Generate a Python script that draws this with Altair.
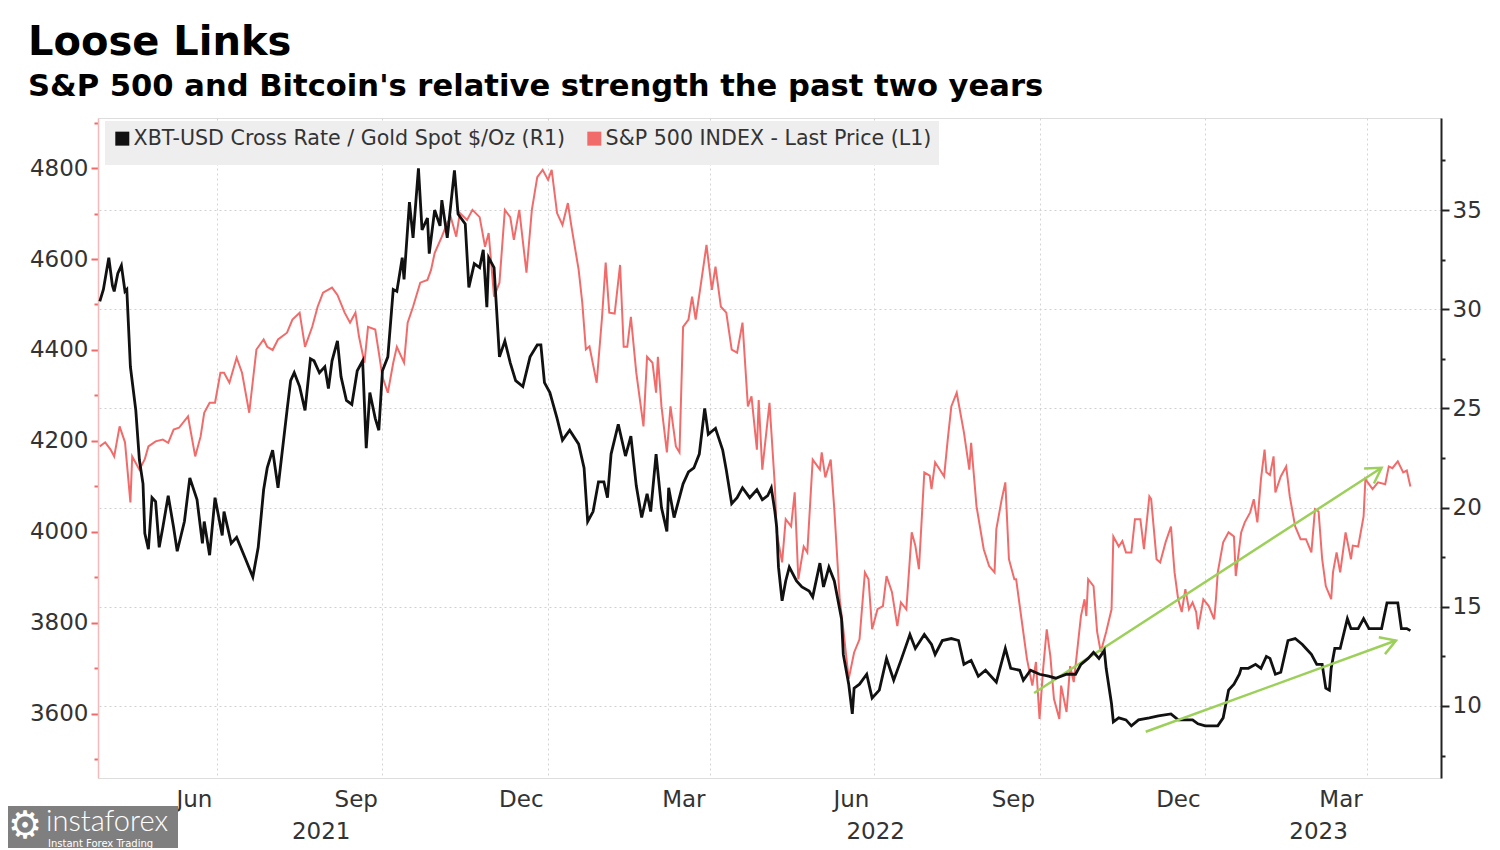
import altair as alt
import pandas as pd

# Day offsets are counted from this date (day 0 = 2021-04-26)
START = pd.Timestamp("2021-04-26")

BTC_NAME = "XBT-USD Cross Rate / Gold Spot $/Oz (R1)"
SP_NAME = "S&P 500 INDEX - Last Price (L1)"

# ---- XBT-USD / Gold (right axis) ----
btc_days = [
    1, 3, 6, 8, 9, 11, 13, 15, 16, 18,
    21, 23, 25, 26, 28, 30, 32, 34, 36, 39,
    42, 44, 48, 51, 55, 58, 59, 62, 65, 69,
    70, 74, 77, 82, 86, 89, 92, 94, 97, 100,
    105, 107, 109, 112, 115, 118, 120, 123, 126, 128,
    130, 133, 135, 138, 141, 144, 147, 149, 151, 154,
    156, 158, 161, 164, 166, 169, 170, 173, 175, 178,
    180, 183, 184, 187, 190, 191, 194, 198, 200, 204,
    206, 209, 212, 214, 216, 217, 220, 223, 226, 229,
    232, 236, 240, 244, 246, 248, 251, 255, 258, 262,
    267, 270, 272, 275, 278, 281, 283, 285, 289, 293,
    296, 299, 302, 305, 307, 310, 313, 316, 317, 320,
    325, 328, 331, 334, 337, 339, 343, 347, 349, 352,
    355, 358, 362, 366, 369, 372, 374, 376, 377, 378,
    380, 382, 384, 388, 391, 395, 397, 401, 403, 406,
    409, 413, 414, 417, 419, 420, 423, 427, 430, 434,
    438, 442, 446, 451, 454, 459, 463, 465, 469, 474,
    478, 481, 485, 489, 493, 499, 504, 507, 512, 514,
    518, 523, 528, 532, 538, 543, 546, 550, 553, 556,
    559, 560, 563, 564, 567, 571, 574, 578, 584, 589,
    596, 600, 608, 611, 615, 622, 625, 628, 631, 634,
    635, 639, 643, 646, 649, 651, 654, 657, 661, 665,
    669, 671, 674, 677, 680, 682, 684, 685, 687, 690,
    694, 696, 700, 703, 706, 710, 713, 716, 721, 722,
    724, 727, 729,
]
btc_vals = [
    30.4, 31.0, 32.6, 31.2, 30.9, 31.8, 32.2, 30.9, 31.0, 27.1,
    24.9, 22.4, 21.2, 18.7, 17.9, 20.5, 20.3, 18.0, 19.0, 20.6,
    19.0, 17.8, 19.3, 21.5, 20.4, 18.2, 19.3, 17.6, 20.5, 18.6,
    19.8, 18.2, 18.5, 17.4, 16.5, 18.0, 20.9, 22.0, 22.9, 21.0,
    24.9, 26.4, 26.8, 26.1, 24.9, 27.5, 27.4, 26.8, 27.1, 26.0,
    27.4, 28.4, 26.6, 25.4, 25.2, 26.9, 27.4, 23.0, 25.8, 24.5,
    23.9, 26.9, 27.6, 31.0, 30.9, 32.6, 31.5, 35.4, 33.6, 37.1,
    34.0, 34.6, 32.8, 35.0, 34.2, 35.5, 33.6, 37.0, 34.8, 34.3,
    31.1, 32.3, 32.1, 33.0, 30.1, 32.6, 32.1, 27.6, 28.4, 27.3,
    26.4, 26.1, 27.6, 28.2, 28.2, 26.3, 25.8, 24.5, 23.4, 23.9,
    23.2, 22.0, 19.3, 19.8, 21.3, 21.3, 20.5, 22.7, 24.2, 22.6,
    23.6, 21.1, 19.5, 20.7, 19.8, 22.7, 20.0, 18.8, 21.0, 19.5,
    21.2, 21.8, 22.0, 22.7, 25.0, 23.7, 24.0, 22.9, 21.9, 20.2,
    20.5, 21.0, 20.5, 20.9, 20.4, 20.6, 21.0, 19.8, 19.0, 17.0,
    15.3, 16.3, 17.0, 16.3, 16.0, 15.8, 15.5, 17.2, 16.0, 17.0,
    16.3, 14.4, 12.6, 11.1, 9.6, 10.9, 11.1, 11.6, 10.4, 10.8,
    12.4, 11.3, 12.3, 13.6, 12.9, 13.6, 13.1, 12.6, 13.3, 13.4,
    13.3, 12.1, 12.3, 11.5, 11.8, 11.2, 12.9, 11.9, 11.8, 11.3,
    11.8, 11.6, 11.5, 11.4, 11.6, 11.6, 12.1, 12.4, 12.7, 12.4,
    12.8, 11.9, 10.1, 9.2, 9.4, 9.3, 9.0, 9.3, 9.4, 9.5,
    9.6, 9.3, 9.3, 9.1, 9.0, 9.0, 9.4, 10.8, 11.1, 11.6,
    11.9, 11.9, 12.1, 11.9, 12.5, 12.4, 11.6, 11.7, 13.3, 13.4,
    13.1, 12.9, 12.6, 12.1, 12.1, 10.9, 10.8, 11.9, 12.9, 12.9,
    14.4, 13.9, 13.9, 14.4, 13.9, 13.9, 13.9, 15.2, 15.2, 15.2,
    13.9, 13.9, 13.8,
]

# ---- S&P 500 (left axis) ----
sp_days = [
    1, 4, 7, 9, 12, 15, 18, 19, 23, 26,
    28, 32, 36, 39, 42, 45, 50, 54, 57, 59,
    62, 65, 68, 70, 73, 77, 80, 84, 88, 92,
    94, 97, 100, 105, 108, 112, 115, 119, 122, 125,
    130, 133, 137, 140, 143, 145, 148, 150, 154, 156,
    158, 161, 164, 166, 170, 172, 175, 179, 183, 185,
    187, 191, 194, 196, 199, 201, 205, 208, 212, 215,
    217, 220, 223, 226, 229, 231, 234, 238, 241, 244,
    247, 250, 252, 255, 258, 261, 263, 267, 269, 271,
    273, 277, 280, 282, 284, 287, 290, 292, 294, 296,
    299, 303, 305, 308, 310, 311, 313, 316, 318, 321,
    323, 325, 328, 330, 332, 335, 338, 341, 343, 346,
    349, 352, 355, 358, 361, 363, 366, 367, 369, 373,
    376, 377, 380, 382, 385, 387, 389, 392, 394, 397,
    401, 402, 404, 407, 409, 412, 414, 417, 420, 423,
    426, 428, 430, 433, 436, 438, 441, 444, 446, 449,
    452, 454, 456, 459, 462, 463, 465, 470, 472, 474,
    477, 478, 481, 484, 485, 488, 492, 495, 498, 499,
    502, 504, 506, 509, 510, 513, 516, 519, 521, 523,
    525, 527, 529, 531, 534, 535, 538, 540, 542, 544,
    546, 548, 549, 550, 553, 555, 557, 560, 563, 564,
    567, 569, 571, 574, 576, 579, 581, 584, 585, 588,
    590, 593, 596, 598, 600, 602, 604, 606, 608, 610,
    611, 614, 617, 620, 621, 622, 625, 628, 631, 632,
    635, 637, 640, 642, 644, 646, 648, 649, 651, 653,
    654, 657, 660, 662, 665, 668, 671, 674, 676, 678,
    680, 682, 685, 686, 688, 690, 693, 696, 697, 700,
    703, 704, 708, 711, 715, 717, 719, 722, 725, 727,
    729,
]
sp_vals = [
    4188, 4197, 4181, 4166, 4232, 4197, 4065, 4166, 4137, 4160,
    4188, 4199, 4203, 4196, 4225, 4229, 4254, 4166, 4210, 4262,
    4284, 4284, 4350, 4350, 4328, 4383, 4350, 4262, 4401, 4423,
    4407, 4400, 4423, 4438, 4467, 4482, 4407, 4451, 4495, 4526,
    4537, 4521, 4482, 4460, 4482, 4429, 4372, 4451, 4445, 4394,
    4341, 4306, 4372, 4407, 4372, 4460, 4495, 4548, 4554, 4576,
    4613, 4649, 4679, 4692, 4649, 4701, 4686, 4708, 4692, 4627,
    4657, 4517, 4548, 4708, 4692, 4642, 4708, 4570, 4708, 4780,
    4796, 4774, 4796, 4701, 4675, 4723, 4671, 4576, 4504, 4401,
    4408, 4328, 4473, 4592, 4482, 4480, 4587, 4407, 4407, 4473,
    4350, 4232, 4385, 4372, 4306, 4385, 4276, 4175, 4276, 4188,
    4175, 4451, 4467, 4517, 4467, 4548, 4631, 4532, 4583, 4495,
    4482, 4401, 4394, 4460, 4276, 4298, 4181, 4290, 4137, 4284,
    4100, 3999, 3933, 4028, 4012, 4087, 3896, 3968, 3955, 4159,
    4137, 4175, 4120, 4159, 4050, 3852, 3786, 3677, 3735, 3764,
    3911, 3896, 3786, 3830, 3837, 3903, 3868, 3793, 3845, 3830,
    3999, 3970, 3918, 4131, 4124, 4094, 4153, 4122, 4203, 4276,
    4306, 4284, 4219, 4137, 4196, 4056, 3962, 3925, 3911, 4006,
    4072, 4109, 3940, 3896, 3896, 3808, 3721, 3662, 3714, 3589,
    3699, 3786, 3727, 3633, 3589, 3662, 3604, 3705, 3670, 3742,
    3815, 3852, 3815, 3896, 3881, 3780, 3736, 3780, 3830, 3990,
    3968, 3980, 3955, 3955, 4028, 4028, 3962, 4078, 4072, 3940,
    3933, 3977, 4012, 3911, 3852, 3824, 3874, 3830, 3845, 3824,
    3786, 3852, 3837, 3808, 3852, 3911, 3977, 3999, 3990, 3903,
    3999, 4021, 4043, 4072, 4021, 4116, 4181, 4131, 4125, 4166,
    4087, 4122, 4144, 4078, 4012, 3984, 3984, 3955, 4050, 4045,
    3940, 3881, 3852, 3911, 3955, 3911, 3999, 3940, 3970, 3968,
    4034, 4116, 4094, 4109, 4105, 4144, 4140, 4155, 4131, 4135,
    4100,
]

# ---- green trend arrows (annotations) ----
sp_arrow_days = [520, 713]
sp_arrow_vals = [3646, 4141]
btc_arrow_days = [582, 721]
btc_arrow_vals = [8.7, 13.3]

# ---- axes ----
month_ticks = ["2021-07-01", "2021-10-01", "2022-01-01", "2022-04-01",
               "2022-07-01", "2022-10-01", "2023-01-01", "2023-04-01"]
year_labels = ["2021", "2022", "2023"]
year_label_dates = ["2021-08-28", "2022-07-02", "2023-03-05"]
sp_ticks = list(range(3500, 4901, 100))
btc_ticks = [7.5, 10, 12.5, 15, 17.5, 20, 22.5, 25, 27.5, 30, 32.5, 35, 37.5]

W, H = 1343, 660
FONT = "DejaVu Sans"
GREEN = "#9dd05a"


def to_dates(days):
    return START + pd.to_timedelta(days, unit="D")


btc_df = pd.DataFrame({"date": to_dates(btc_days), "value": btc_vals, "series": BTC_NAME})
sp_df = pd.DataFrame({"date": to_dates(sp_days), "value": sp_vals, "series": SP_NAME})
sp_arrow_df = pd.DataFrame({"date": to_dates(sp_arrow_days), "value": sp_arrow_vals})
btc_arrow_df = pd.DataFrame({"date": to_dates(btc_arrow_days), "value": btc_arrow_vals})
year_df = pd.DataFrame({"date": pd.to_datetime(year_label_dates), "label": year_labels})

x_scale = alt.Scale(domain=[alt.DateTime(year=2021, month=4, date=26),
                            alt.DateTime(year=2023, month=5, date=12)])
sp_scale = alt.Scale(domain=[3459, 4910], nice=False, zero=False)
btc_scale = alt.Scale(domain=[6.37, 39.64], nice=False, zero=False)

x_axis = alt.Axis(
    values=[alt.DateTime(year=t.year, month=t.month, date=t.day) for t in pd.to_datetime(month_ticks)],
    labelExpr="timeFormat(datum.value - 1296000000, '%b')",
    grid=True, gridDash=[2, 3], gridColor="#d4d4d4", gridWidth=1,
    domain=False, ticks=False,
    labelAlign="right", labelOffset=-5, labelPadding=10, labelBaseline="top",
    labelFont=FONT, labelFontSize=23, labelColor="#333333",
    labelOverlap=False, labelFlush=False, title=None,
)

sp_axis = alt.Axis(
    orient="left", values=sp_ticks, format="d",
    labelExpr="datum.value % 200 === 0 ? datum.label : ''",
    tickSize={"condition": {"test": "datum.value % 200 === 0", "value": 7}, "value": 4},
    tickColor="#ef6b6b", tickWidth=2,
    domainColor="#f6b9b9", domainWidth=1.5, grid=False,
    labelFont=FONT, labelFontSize=23, labelColor="#333333", labelPadding=3, title=None,
)

btc_axis = alt.Axis(
    orient="right", values=btc_ticks, format="d",
    labelExpr="datum.value % 5 === 0 ? datum.label : ''",
    tickSize={"condition": {"test": "datum.value % 5 === 0", "value": 8}, "value": 4},
    tickColor="#222222", tickWidth=2,
    domainColor="#222222", domainWidth=2,
    grid=True, gridDash=[2, 3], gridColor="#d0d0d0",
    gridOpacity={"condition": {"test": "datum.value % 5 === 0", "value": 1}, "value": 0},
    labelFont=FONT, labelFontSize=23, labelColor="#333333", labelPadding=3, title=None,
)

legend = alt.Legend(
    orient="none", legendX=7, legendY=3, direction="horizontal", title=None,
    fillColor="#eeeeee", padding=7, symbolType="square", symbolSize=36,
    symbolStrokeWidth=8, labelFont=FONT, labelFontSize=20.6, labelColor="#333333",
    labelOffset=1, columnPadding=9, labelLimit=0,
)
color = alt.Color("series:N", scale=alt.Scale(domain=[BTC_NAME, SP_NAME],
                                             range=["#111111", "#f26b6b"]), legend=legend)

X = alt.X("date:T", scale=x_scale, axis=x_axis)
Y_SP = alt.Y("value:Q", scale=sp_scale, axis=sp_axis)
Y_BTC = alt.Y("value:Q", scale=btc_scale, axis=btc_axis)

sp_line = alt.Chart(sp_df).mark_line(strokeWidth=2).encode(x=X, y=Y_SP, color=color)
sp_arrow = alt.Chart(sp_arrow_df).mark_line(color=GREEN, strokeWidth=2.5).encode(x=X, y=Y_SP)
sp_head = alt.Chart(sp_arrow_df.tail(1)).mark_point(
    shape="M-1,-0.6L0,0L-1,0.6", filled=False, size=900, strokeWidth=2.5,
    color=GREEN, opacity=1, angle=327,
).encode(x=X, y=Y_SP)

btc_line = alt.Chart(btc_df).mark_line(strokeWidth=2.8).encode(x=X, y=Y_BTC, color=color)
btc_arrow = alt.Chart(btc_arrow_df).mark_line(color=GREEN, strokeWidth=2.5).encode(x=X, y=Y_BTC)
btc_head = alt.Chart(btc_arrow_df.tail(1)).mark_point(
    shape="M-1,-0.6L0,0L-1,0.6", filled=False, size=900, strokeWidth=2.5,
    color=GREEN, opacity=1, angle=340,
).encode(x=X, y=Y_BTC)

sp_group = alt.layer(sp_line, sp_arrow, sp_head)
btc_group = alt.layer(btc_line, btc_arrow, btc_head)

years = alt.Chart(year_df).mark_text(
    font=FONT, fontSize=23, color="#333333", align="center", baseline="middle"
).encode(x=X, y=alt.value(714), text="label:N")

# watermark of the source image
wm_df = pd.DataFrame({"brand": ["instaforex"], "tag": ["Instant Forex Trading"], "logo": ["\u2699"]})
wm_box = alt.Chart(wm_df).mark_rect(color="#7f7f7f").encode(
    x=alt.value(-90), x2=alt.value(80), y=alt.value(688), y2=alt.value(732)
)
wm_logo = alt.Chart(wm_df).mark_text(font=FONT, fontSize=38, color="white", align="center",
                                      baseline="middle").encode(
    x=alt.value(-73), y=alt.value(709), text="logo:N")
wm_brand = alt.Chart(wm_df).mark_text(font="Lato", fontSize=29, fontWeight=300, color="white",
                                       align="left", baseline="alphabetic").encode(
    x=alt.value(-52), y=alt.value(713), text="brand:N")
wm_tag = alt.Chart(wm_df).mark_text(font=FONT, fontSize=10, color="white",
                                     align="left", baseline="alphabetic").encode(
    x=alt.value(-50), y=alt.value(729), text="tag:N")

chart = alt.layer(
    sp_group, btc_group, years, wm_box, wm_logo, wm_brand, wm_tag
).resolve_scale(
    y="independent"
).properties(
    width=W, height=H,
    autosize=alt.AutoSizeParams(type="none"),
    padding={"left": 90, "top": 110, "right": 50, "bottom": 70},
    title=alt.TitleParams(
        text="Loose Links",
        subtitle="S&P 500 and Bitcoin's relative strength the past two years",
        anchor="start", frame="group", dx=-70, offset=15,
        font=FONT, fontSize=40, fontWeight="bold", color="#000000",
        subtitleFont=FONT, subtitleFontSize=30.6, subtitleFontWeight="bold",
        subtitleColor="#000000", subtitlePadding=9,
    ),
).configure_view(strokeWidth=0).configure(background="white")

chart.save("out.html", embed_options={"renderer": "svg", "actions": False})
